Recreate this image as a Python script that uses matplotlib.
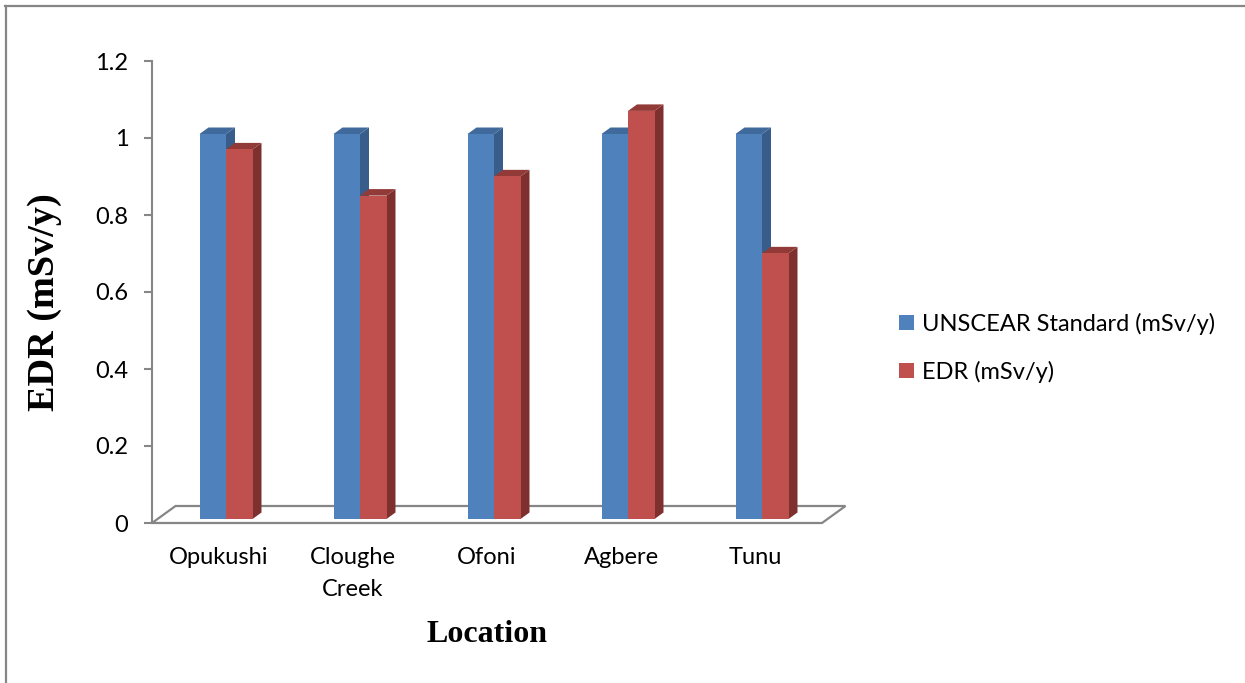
import matplotlib
matplotlib.use("Agg")
import matplotlib.pyplot as plt
from matplotlib.patches import Polygon, Patch
from matplotlib.lines import Line2D
from matplotlib.transforms import ScaledTranslation

# Data
locations = ["Opukushi", "Cloughe\nCreek", "Ofoni", "Agbere", "Tunu"]
unscear_standard = [1.0, 1.0, 1.0, 1.0, 1.0]
edr_values = [0.96, 0.84, 0.89, 1.06, 0.69]
series_names = ["UNSCEAR Standard (mSv/y)", "EDR (mSv/y)"]
ytick_values = [0, 0.2, 0.4, 0.6, 0.8, 1, 1.2]
ytick_labels = ["0", "0.2", "0.4", "0.6", "0.8", "1", "1.2"]

# Styling
W, H, DPI = 1245, 683, 100
SANS = "Lato"
SERIF = "Liberation Serif"
FS = 17
GRAY = "#868686"
face_colors = ["#4F81BD", "#C0504D"]
side_colors = ["#385D8A", "#7E302E"]
top_colors = ["#406A9C", "#923A37"]

fig = plt.figure(figsize=(W / DPI, H / DPI), dpi=DPI)
fig.patch.set_facecolor("white")

# plot area (front plane of the 3-D box)
ax_l, ax_r, ax_b, ax_t = 152, 822, 523, 61
ax = fig.add_axes([ax_l / W, 1 - ax_b / H, (ax_r - ax_l) / W, (ax_b - ax_t) / H])
ax.set_xlim(0, len(locations))
ax.set_ylim(0, 1.2)
ax.set_facecolor("none")
for name, sp in ax.spines.items():
    sp.set_visible(name == "left")
ax.spines["left"].set_color(GRAY)
ax.spines["left"].set_linewidth(1.5)

# data units per pixel
px_x = (ax.get_xlim()[1] - ax.get_xlim()[0]) / (ax_r - ax_l)
px_y = (ax.get_ylim()[1] - ax.get_ylim()[0]) / (ax_b - ax_t)


def shifted(dx_px, dy_px):
    return ax.transData + ScaledTranslation(dx_px / DPI, dy_px / DPI, fig.dpi_scale_trans)


# floor of the 3-D box
fdx, fdy = 23.5 * px_x, 17 * px_y
n = len(locations)
floor = Polygon([(0, 0), (n, 0), (n + fdx, fdy), (fdx, fdy)], closed=True,
                facecolor="white", edgecolor=GRAY, linewidth=1.6,
                clip_on=False, zorder=1, joinstyle="miter")
ax.add_patch(floor)

# 3-D bars
bar_w = 26.5 * px_x
ddx, ddy = 9 * px_x, 6.5 * px_y
bar_trans = shifted(7, 4)


def draw_bar(x0, value, k):
    x1 = x0 + bar_w
    front = Polygon([(x0, 0), (x1, 0), (x1, value), (x0, value)], closed=True,
                    facecolor=face_colors[k], edgecolor="none",
                    transform=bar_trans, clip_on=False, zorder=3)
    side = Polygon([(x1, 0), (x1 + ddx, ddy), (x1 + ddx, value + ddy), (x1, value)],
                   closed=True, facecolor=side_colors[k], edgecolor="none",
                   transform=bar_trans, clip_on=False, zorder=3)
    top = Polygon([(x0, value), (x1, value), (x1 + ddx, value + ddy), (x0 + ddx, value + ddy)],
                  closed=True, facecolor=top_colors[k], edgecolor="none",
                  transform=bar_trans, clip_on=False, zorder=3)
    for p in (side, top, front):
        ax.add_patch(p)


for i in range(n):
    center = i + 0.5
    draw_bar(center - bar_w, unscear_standard[i], 0)
    draw_bar(center, edr_values[i], 1)

# axes ticks and labels
ax.set_yticks(ytick_values)
ax.set_yticklabels(ytick_labels, fontfamily=SANS, fontsize=FS)
ax.tick_params(axis="y", direction="out", length=6, width=1.5, color=GRAY, pad=11)
ax.set_xticks([i + 0.5 for i in range(n)])
ax.set_xticklabels(locations, fontfamily=SANS, fontsize=FS, linespacing=1.65)
ax.tick_params(axis="x", length=0, pad=17.5)

fig.text(487 / W, 1 - 635 / H, "Location", fontfamily=SERIF, fontweight="bold",
         fontsize=23, ha="center", va="center")
fig.text(45 / W, 1 - 302 / H, "EDR (mSv/y)", fontfamily=SERIF, fontweight="bold",
         fontsize=27.5, ha="center", va="center", rotation=90)

# legend
handles = [Patch(facecolor=c, edgecolor="none") for c in face_colors]
fig.legend(handles, series_names, loc="center left",
           bbox_to_anchor=(899 / W, 1 - 348 / H), frameon=False,
           prop={"family": SANS, "size": FS}, handlelength=0.62, handleheight=0.62,
           handletextpad=0.35, labelspacing=1.1, borderaxespad=0, borderpad=0)

# outer frame (top and left edges)
fig.add_artist(Line2D([5 / W, 1], [1 - 6 / H, 1 - 6 / H], transform=fig.transFigure,
                      color=GRAY, linewidth=1.6))
fig.add_artist(Line2D([6 / W, 6 / W], [0, 1 - 6 / H], transform=fig.transFigure,
                      color=GRAY, linewidth=1.6))

fig.savefig("out.png", dpi=DPI, facecolor="white")
